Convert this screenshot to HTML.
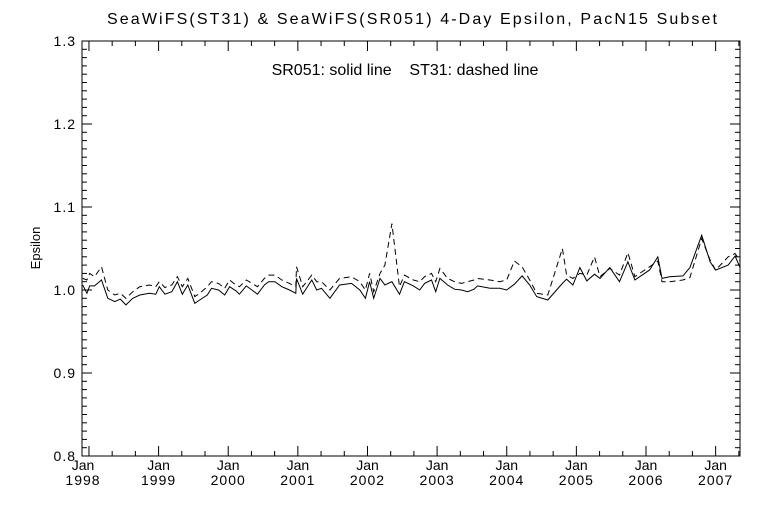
<!DOCTYPE html>
<html><head><meta charset="utf-8"><style>
html,body{margin:0;padding:0;background:#fff;}
svg{display:block;font-family:"Liberation Sans","DejaVu Sans",sans-serif;}
</style></head><body>
<svg id="chart" width="768" height="512" viewBox="0 0 768 512" xmlns="http://www.w3.org/2000/svg">
<rect width="768" height="512" fill="#fff"/>
<text x="412" y="24" font-size="16" text-anchor="middle" fill="#000" textLength="610" lengthAdjust="spacing">SeaWiFS(ST31) &amp; SeaWiFS(SR051) 4-Day Epsilon, PacN15 Subset</text>
<text x="405" y="75" font-size="16" text-anchor="middle" fill="#000" style="white-space:pre">SR051: solid line    ST31: dashed line</text>
<text transform="translate(40,248) rotate(-90)" font-size="13" text-anchor="middle" fill="#000">Epsilon</text>
<g id="axes"></g>
<g id="series"></g>
</svg>
<script>
const dates = [1997.91,1997.97,1998.01,1998.08,1998.18,1998.27,1998.37,1998.45,1998.53,1998.63,1998.73,1998.87,1998.96,1999.01,1999.09,1999.19,1999.27,1999.34,1999.42,1999.52,1999.59,1999.70,1999.76,1999.86,1999.95,2000.02,2000.11,2000.16,2000.26,2000.34,2000.42,2000.52,2000.58,2000.67,2000.77,2000.88,2000.97,2000.98,2001.07,2001.20,2001.27,2001.34,2001.46,2001.60,2001.77,2001.89,2001.97,2002.03,2002.09,2002.18,2002.25,2002.35,2002.46,2002.53,2002.66,2002.75,2002.82,2002.92,2002.98,2003.04,2003.15,2003.25,2003.35,2003.44,2003.53,2003.58,2003.76,2003.90,2004.00,2004.11,2004.22,2004.33,2004.43,2004.59,2004.80,2004.86,2004.95,2005.05,2005.15,2005.26,2005.34,2005.48,2005.62,2005.74,2005.84,2005.91,2006.05,2006.17,2006.23,2006.34,2006.53,2006.63,2006.80,2006.92,2007.00,2007.18,2007.28,2007.35];
const sr051 = [1.006,0.996,1.005,1.005,1.012,0.990,0.986,0.989,0.982,0.990,0.994,0.996,0.995,1.004,0.995,0.998,1.010,0.995,1.006,0.984,0.988,0.994,1.002,1.000,0.994,1.004,0.999,0.995,1.005,1.000,0.995,1.006,1.010,1.010,1.004,1.000,0.996,1.014,0.995,1.012,1.000,1.002,0.990,1.006,1.008,1.000,0.990,1.010,0.990,1.014,1.006,1.010,0.995,1.010,1.005,1.000,1.008,1.012,0.998,1.014,1.006,1.001,1.000,0.998,1.001,1.005,1.002,1.002,1.000,1.007,1.017,1.006,0.992,0.988,1.008,1.013,1.006,1.027,1.011,1.019,1.014,1.027,1.010,1.034,1.012,1.016,1.024,1.040,1.014,1.016,1.017,1.027,1.066,1.034,1.024,1.030,1.041,1.027];
const st31 = [1.014,1.012,1.020,1.016,1.028,1.000,0.994,0.996,0.990,0.998,1.004,1.006,1.004,1.010,1.003,1.006,1.016,1.004,1.014,0.992,0.996,1.004,1.010,1.008,1.002,1.012,1.006,1.004,1.012,1.008,1.004,1.014,1.018,1.018,1.012,1.008,1.004,1.028,1.004,1.018,1.010,1.010,1.000,1.014,1.016,1.010,1.000,1.020,0.998,1.020,1.030,1.080,1.004,1.018,1.012,1.010,1.016,1.020,1.010,1.026,1.014,1.010,1.008,1.010,1.012,1.014,1.012,1.010,1.012,1.035,1.028,1.012,0.996,0.994,1.050,1.018,1.014,1.020,1.018,1.040,1.016,1.026,1.018,1.045,1.016,1.020,1.028,1.035,1.010,1.010,1.012,1.015,1.062,1.036,1.024,1.040,1.044,1.035];
const yTicks = [0.8,0.9,1.0,1.1,1.2,1.3];
const yTickLabels = ["0.8","0.9","1.0","1.1","1.2","1.3"];
const xYears = [1998,1999,2000,2001,2002,2003,2004,2005,2006,2007];

const L=82,R=740,T=41,B=456;
const X0=1997.90,X1=2007.35;
function xs(v){return L+(v-X0)/(X1-X0)*(R-L);}
function ys(v){return B-(v-0.8)/0.5*(B-T);}
const NS="http://www.w3.org/2000/svg";
function mk(tag,attrs,parent){const e=document.createElementNS(NS,tag);for(const k in attrs)e.setAttribute(k,attrs[k]);parent.appendChild(e);return e;}
const ax=document.getElementById('axes');
const frame=mk('rect',{x:L,y:T,width:R-L,height:B-T,fill:'none',stroke:'#000','stroke-width':1},ax);


for(let i=0;i<=50;i++){
  const v=0.8+i*0.01, y=ys(v), len=(i%10===0)?10:5;
  const t1=mk('line',{x1:L,y1:y,x2:L+len,y2:y,stroke:'#000'},ax);
  
  
  const t2=mk('line',{x1:R,y1:y,x2:R-len,y2:y,stroke:'#000'},ax);
  
  
}
yTicks.forEach((v,i)=>{
  const t=mk('text',{x:L-6,y:ys(v)+5,'font-size':14,'text-anchor':'end',fill:'#000','letter-spacing':'1'},ax);
  t.textContent=yTickLabels[i];
  
  
});
for(let m=0;m<=28;m++){
  const v=1998+m/3; if(v>X1)break;
  const x=xs(v), len=(m%3===0)?10:5;
  const a=mk('line',{x1:x,y1:B,x2:x,y2:B-len,stroke:'#000'},ax);
  
  
  const b=mk('line',{x1:x,y1:T,x2:x,y2:T+len,stroke:'#000'},ax);
  
  
}
xYears.forEach((yr,i)=>{
  const x = i===0 ? L+1 : xs(yr);
  const t1=mk('text',{x:x,y:B+14,'font-size':14,'text-anchor':'middle',fill:'#000'},ax);
  t1.textContent='Jan';
  
  
  const t2=mk('text',{x:x,y:B+29,'font-size':14,'text-anchor':'middle',fill:'#000','letter-spacing':'1'},ax);
  t2.textContent=String(yr);
  
  
});
const sg=document.getElementById('series');
function path(vals){return vals.map((v,i)=>(i?'L':'M')+xs(dates[i]).toFixed(1)+','+ys(v).toFixed(1)).join(' ');}
const p1=mk('path',{d:path(sr051),fill:'none',stroke:'#000','stroke-width':1},sg);


const p2=mk('path',{d:path(st31),fill:'none',stroke:'#000','stroke-width':1,'stroke-dasharray':'6,4'},sg);


</script>
</body></html>
